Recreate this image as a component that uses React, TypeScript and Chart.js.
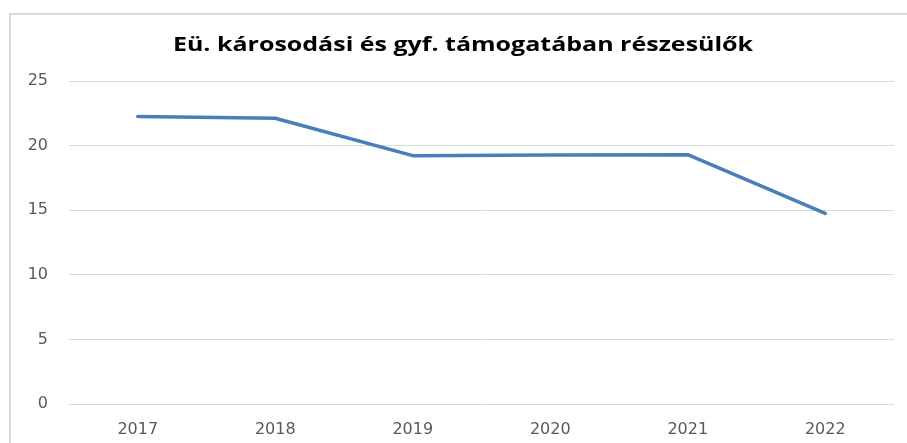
import React, { useEffect, useRef } from "react";
import { Chart, registerables } from "chart.js";

Chart.register(...registerables);

const title = "Eü. károsodási és gyf. támogatában részesülők";
const years = ["2017", "2018", "2019", "2020", "2021", "2022"];
const values = [22.25, 22.12, 19.22, 19.27, 19.3, 14.75];
const yTicks = [0, 5, 10, 15, 20, 25];

const borderPlugin = {
  id: "outerBorder",
  beforeDraw(chart: any) {
    const ctx = chart.ctx;
    ctx.save();
    ctx.fillStyle = "#ffffff";
    ctx.fillRect(0, 0, chart.width, chart.height);
    ctx.fillStyle = "#d9d9d9";
    ctx.fillRect(9, 13, 2, chart.height - 13);
    ctx.fillRect(9, 13, chart.width - 9, 2);
    ctx.restore();
  },
  afterDraw(chart: any) {
    const ctx = chart.ctx;
    ctx.save();
    ctx.fillStyle = "#000000";
    ctx.font = "bold 20px 'Open Sans'";
    ctx.textAlign = "center";
    ctx.textBaseline = "middle";
    ctx.translate(463, 45);
    ctx.scale(1.25, 1);
    ctx.fillText(title, 0, 0);
    ctx.restore();
  },
};

export default function App() {
  const ref = useRef<HTMLCanvasElement>(null);
  useEffect(() => {
    document.body.style.margin = "0";
    document.body.style.overflow = "hidden";
    document.documentElement.style.overflow = "hidden";
    const chart = new Chart(ref.current!, {
      type: "line",
      data: {
        labels: years,
        datasets: [
          {
            data: values,
            borderColor: "#4a7ebb",
            borderWidth: 3.5,
            pointRadius: 0,
            tension: 0,
            borderCapStyle: "round",
            borderJoinStyle: "round",
          },
        ],
      },
      options: {
        animation: false,
        responsive: false,
        layout: { padding: { left: 0, right: 13, top: 81, bottom: 0 } },
        plugins: {
          legend: { display: false },
          tooltip: { enabled: false },
          title: { display: false },
        },
        scales: {
          x: {
            offset: true,
            grid: { display: false },
            border: { display: false },
            ticks: {
              color: "#595959",
              font: { family: "DejaVu Sans", size: 16 },
              padding: 8,
              maxRotation: 0,
            },
            afterFit(scale: any) {
              scale.height = 39;
            },
          },
          y: {
            min: 0,
            max: 25,
            afterBuildTicks(scale: any) {
              scale.ticks = yTicks.map((v) => ({ value: v }));
            },
            grid: { color: "#d9d9d9", lineWidth: 1, drawTicks: false },
            border: { display: false },
            ticks: {
              color: "#595959",
              font: { family: "DejaVu Sans", size: 16 },
              padding: 21,
            },
            afterFit(scale: any) {
              scale.width = 69;
            },
          },
        },
      },
      plugins: [borderPlugin],
    });
    return () => chart.destroy();
  }, []);
  return <canvas ref={ref} width={907} height={443} style={{ display: "block" }} />;
}
